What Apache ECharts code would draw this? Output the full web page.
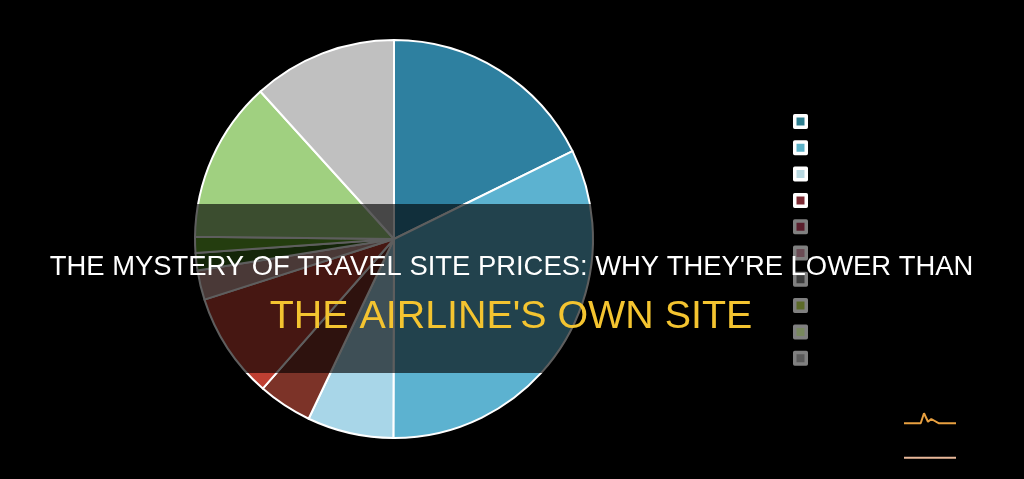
<!DOCTYPE html>
<html>
<head>
<meta charset="utf-8">
<style>
  html, body { margin: 0; padding: 0; background: #000; }
  #chart { width: 1024px; height: 479px; }
</style>
<script src="https://cdn.jsdelivr.net/npm/echarts@6/dist/echarts.min.js"></script>
</head>
<body>
<div id="chart"></div>
<script>
// legend text in the source is black on black, so it cannot be read
const categories = ['Item 1', 'Item 2', 'Item 3', 'Item 4', 'Item 5', 'Item 6', 'Item 7', 'Item 8', 'Item 9', 'Item 10']
const shares = [17.7, 32.3, 7.0, 4.4, 8.6, 2.4, 1.4, 1.3, 13.1, 11.7]
const sliceColors = ['#2e80a0', '#5cb2d0', '#a8d6e8', '#7c3328', '#bf3f32', '#c89a96', '#376819', '#62a52b', '#a0d080', '#c0c0c0']

// items 5-10 sit under the dark band, so their swatches are already dimmed
const legendColors = ['#2e7f90', '#5cb2c8', '#b8d8e0', '#7c2a33', '#5a1e2c', '#6b4c55', '#3c3c3c', '#5c6a28', '#78885e', '#5a5a5a']
const legendBorders = ['#fff', '#fff', '#fff', '#fff', '#808080', '#808080', '#808080', '#808080', '#808080', '#808080']

const pulseX = [0, 16.7, 20, 24, 27.3, 35, 52]
const pulseY = [11.7, 11.7, 21.7, 13.3, 16, 11.7, 11.7]
const flatX = [0, 52]
const flatY = [-22.7, -22.7]

const titleTop = 'THE MYSTERY OF TRAVEL SITE PRICES: WHY THEY\'RE LOWER THAN'
const titleBottom = 'THE AIRLINE\'S OWN SITE'

const chart = echarts.init(document.getElementById('chart'), null, { renderer: 'canvas' })

const option = {
  backgroundColor: '#000',
  animation: false,
  legend: {
    orient: 'vertical',
    left: 788,
    top: 109,
    z: 200,
    itemWidth: 11.5,
    itemHeight: 11.5,
    itemGap: 11.3,
    icon: 'rect',
    itemStyle: { borderWidth: 3.5 },
    textStyle: { color: '#000', fontSize: 11 },
    data: categories.map((name, i) => ({
      name,
      itemStyle: { color: legendColors[i], borderColor: legendBorders[i], borderWidth: 3.5 }
    }))
  },
  grid: { left: 904, top: 400, width: 52, height: 70 },
  xAxis: { type: 'value', min: 0, max: 52, show: false },
  yAxis: { type: 'value', min: -35, max: 35, show: false },
  series: [
    {
      type: 'pie',
      center: [394, 239],
      radius: [0, 199],
      startAngle: 90,
      clockwise: true,
      label: { show: false },
      labelLine: { show: false },
      itemStyle: { borderColor: '#fff', borderWidth: 2 },
      data: categories.map((name, i) => ({
        name,
        value: shares[i],
        itemStyle: { color: sliceColors[i] }
      }))
    },
    {
      type: 'line',
      symbol: 'none',
      lineStyle: { color: '#e8a040', width: 2 },
      data: pulseX.map((x, i) => [x, pulseY[i]])
    },
    {
      type: 'line',
      symbol: 'none',
      lineStyle: { color: '#e8b89a', width: 2 },
      data: flatX.map((x, i) => [x, flatY[i]])
    }
  ],
  graphic: [
    {
      type: 'rect',
      z: 100,
      shape: { x: 0, y: 204, width: 1024, height: 169 },
      style: { fill: 'rgba(0,0,0,0.63)' }
    },
    {
      type: 'text',
      z: 201,
      x: 511.5,
      y: 267.5,
      style: {
        text: titleTop,
        fill: '#fff',
        font: '27.4px "Liberation Sans"',
        align: 'center',
        verticalAlign: 'middle'
      }
    },
    {
      type: 'text',
      z: 201,
      x: 511,
      y: 317,
      style: {
        text: titleBottom,
        fill: '#f4c430',
        font: '39.4px "Liberation Sans"',
        align: 'center',
        verticalAlign: 'middle'
      }
    }
  ]
}

chart.setOption(option)
</script>
</body>
</html>
